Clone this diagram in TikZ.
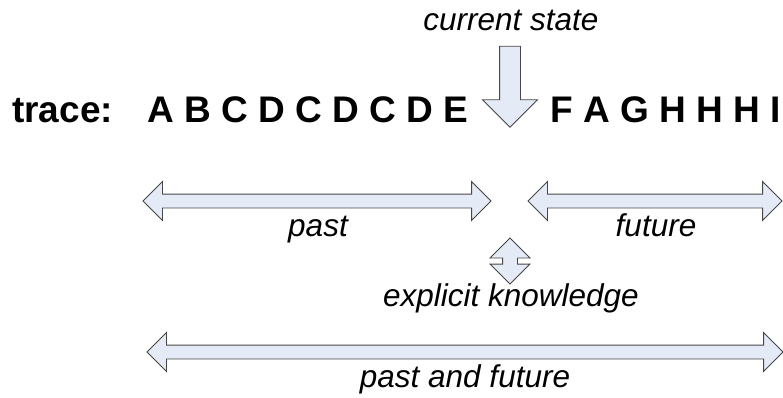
\documentclass[tikz,border=0pt]{standalone}
\usepackage{fontspec}
\setmainfont{Liberation Sans}
\usepackage{tikz}
\usetikzlibrary{shapes,arrows,positioning,calc}

\definecolor{arrowfill}{RGB}{228,234,246}
\definecolor{arrowline}{RGB}{70,70,70}

\tikzset{
    span/.style={double arrow, draw=arrowline, fill=arrowfill, line width=0.9pt,
        inner xsep=0pt, inner ysep=6.5pt, double arrow head extend=12.5pt, minimum height=#1},
    pointer/.style={single arrow, draw=arrowline, fill=arrowfill, line width=0.9pt,
        inner xsep=0pt, inner ysep=10pt, single arrow head extend=17pt, minimum height=#1},
    lbl/.style={font=\itshape\fontsize{31.5}{36}\selectfont, inner sep=0pt, anchor=base},
    seq/.style={font=\bfseries\fontsize{37}{44}\selectfont, inner sep=0pt}
}

\begin{document}
\begin{tikzpicture}[x=1pt,y=-1pt]
    \useasboundingbox (0,0) rectangle (783,397);

    \node[lbl] (cur) at (511,30) {current state};
    \node[pointer=81pt, rotate=-90] (now) at (510,81.5) {};

    \node[seq, anchor=base west] (tracelbl) at (12,122) {trace:};
    \node[seq, anchor=base west] (pastseq) at (147,122) {A B C D C D C D E};
    \node[seq, anchor=base east] (futseq) at (781,122) {F A G H H H I};

    \node[span=348pt] (pastarr) at (317,201) {};
    \node[lbl] (past) at (318,236) {past};

    \node[span=254pt] (futarr) at (655,201) {};
    \node[lbl] (future) at (656,236) {future};

    \node[span=46pt, rotate=90, inner ysep=7pt, double arrow head extend=12.5pt] (knowarr) at (510,261) {};
    \node[lbl] (know) at (511,306) {explicit knowledge};

    \node[span=636pt] (allarr) at (465,352) {};
    \node[lbl] (all) at (465,387) {past and future};
\end{tikzpicture}
\end{document}
